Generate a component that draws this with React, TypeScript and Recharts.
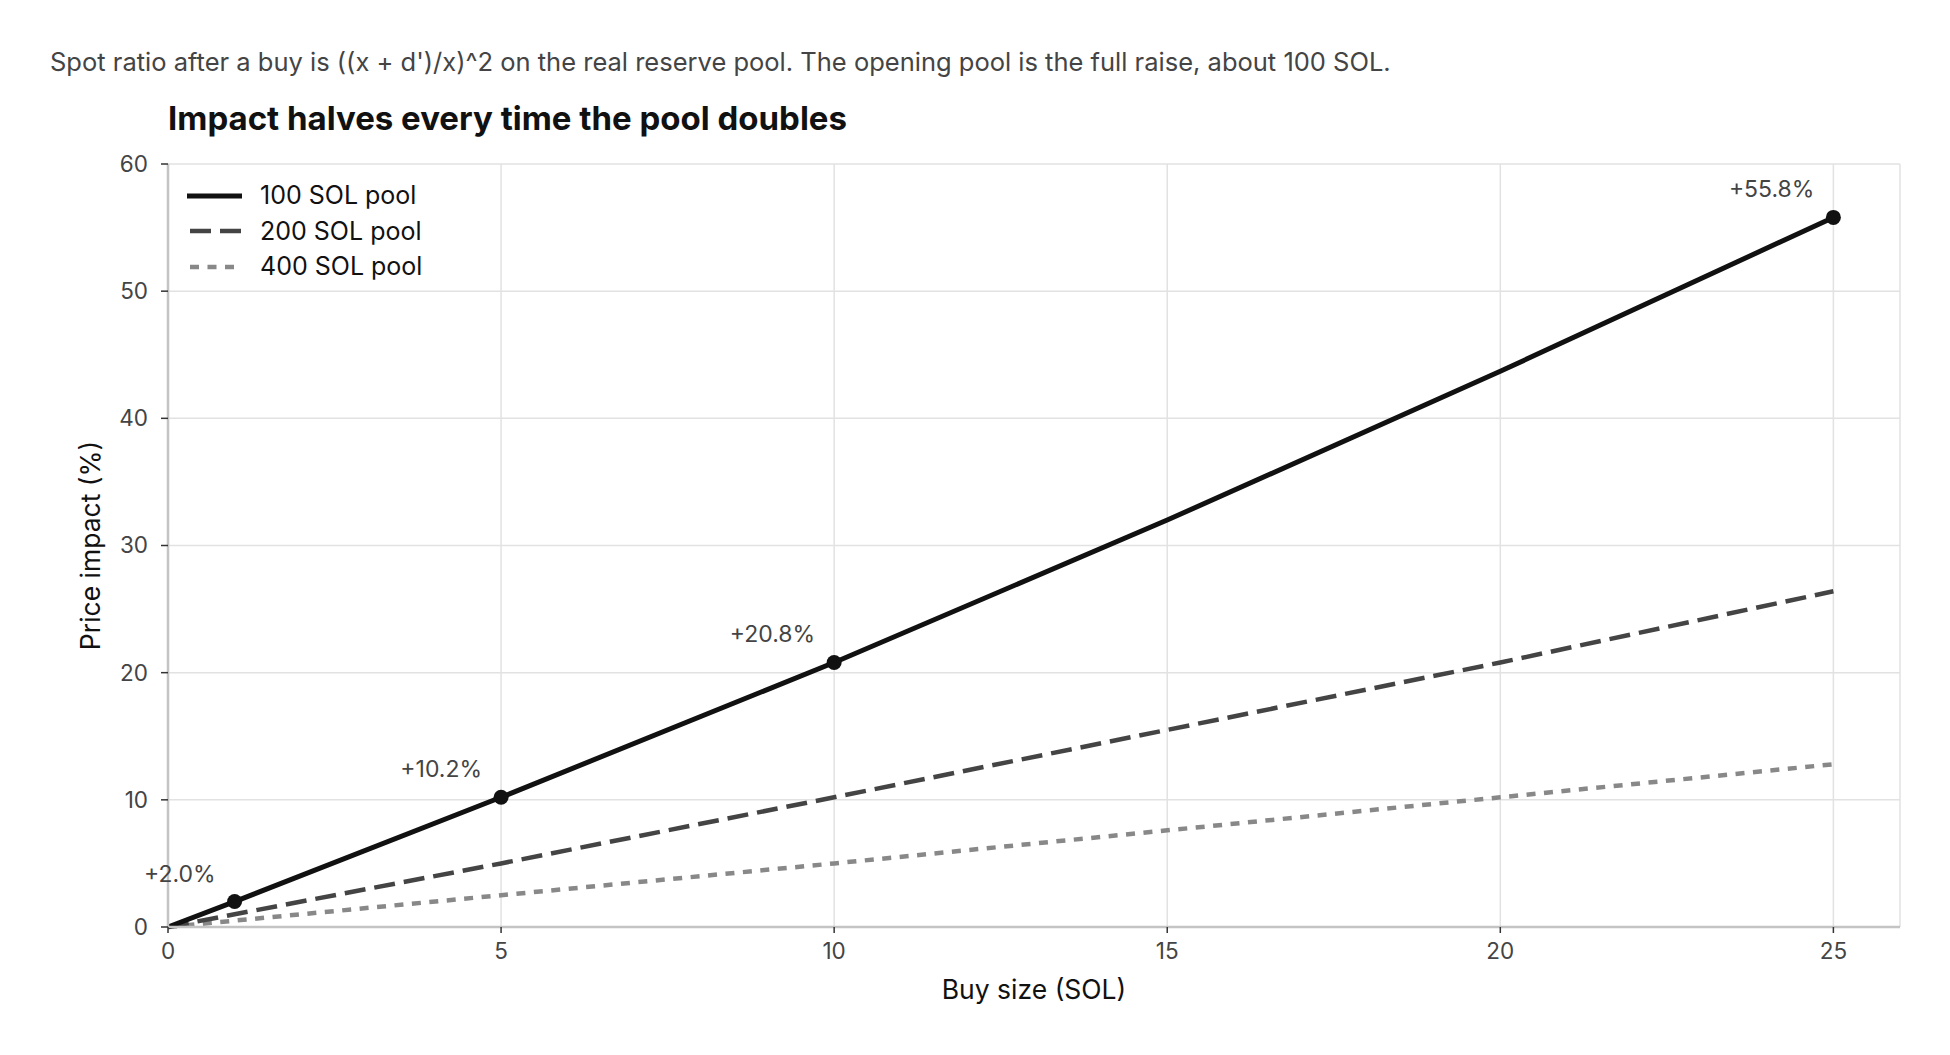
import React from 'react';
import { LineChart, Line, XAxis, YAxis, CartesianGrid, LabelList, Label } from 'recharts';

// ---- data ----
const buySizes = [0, 1, 5, 10, 15, 20, 25];
const pool100 = [0, 2.0, 10.2, 20.8, 32.0, 43.7, 55.8];
const pool200 = [0, 1.0, 5.0, 10.2, 15.5, 20.8, 26.4];
const pool400 = [0, 0.5, 2.5, 5.0, 7.6, 10.2, 12.8];
const seriesNames = ['100 SOL pool', '200 SOL pool', '400 SOL pool'];
const markedSizes = [1, 5, 10, 25];
const xTicks = [0, 5, 10, 15, 20, 25];
const yTicks = [0, 10, 20, 30, 40, 50, 60];

const subtitle = "Spot ratio after a buy is ((x + d')/x)^2 on the real reserve pool. The opening pool is the full raise, about 100 SOL.";
const title = 'Impact halves every time the pool doubles';
const xLabel = 'Buy size (SOL)';
const yLabel = 'Price impact (%)';

const data = buySizes.map((x, i) => ({ x, p100: pool100[i], p200: pool200[i], p400: pool400[i] }));

// ---- styles ----
const FONT = 'Inter, "Noto Sans", "DejaVu Sans", sans-serif';
const seriesStyles = [
  { key: 'p100', color: '#111111', width: 5, dash: undefined as string | undefined },
  { key: 'p200', color: '#444444', width: 4.5, dash: '21 9' },
  { key: 'p400', color: '#888888', width: 4.5, dash: '9 8.5' },
];

const renderDot = (props: any) => {
  const { cx, cy, payload, index } = props;
  if (!markedSizes.includes(payload.x)) return <g key={`d${index}`} />;
  return <circle key={`d${index}`} cx={cx} cy={cy} r={7.5} fill="#111111" />;
};

const renderPointLabel = (props: any) => {
  const { x, y, value, index } = props;
  if (!markedSizes.includes(buySizes[index])) return null;
  return (
    <text
      key={`l${index}`}
      x={x - 19}
      y={y - 28}
      textAnchor="end"
      dominantBaseline="central"
      fontSize={23}
      fill="#444444"
      fontFamily={FONT}
    >
      {`+${Number(value).toFixed(1)}%`}
    </text>
  );
};

const renderXLabel = (props: any) => {
  const vb = props.viewBox || {};
  return (
    <text
      x={vb.x + vb.width / 2}
      y={vb.y + 62}
      textAnchor="middle"
      dominantBaseline="central"
      fontSize={26.5}
      fill="#111111"
      fontFamily={FONT}
    >
      {xLabel}
    </text>
  );
};

const renderYLabel = (props: any) => {
  const vb = props.viewBox || {};
  const cx = vb.x + vb.width - 78;
  const cy = vb.y + vb.height / 2;
  return (
    <text
      x={cx}
      y={cy}
      transform={`rotate(-90 ${cx} ${cy})`}
      textAnchor="middle"
      dominantBaseline="central"
      fontSize={26.5}
      fill="#111111"
      fontFamily={FONT}
    >
      {yLabel}
    </text>
  );
};

const LegendOverlay = () => (
  <div style={{ position: 'absolute', left: 186, top: 178, fontFamily: FONT }}>
    {seriesNames.map((name, i) => {
      const s = seriesStyles[i];
      return (
        <div key={name} style={{ display: 'flex', alignItems: 'center', height: 35.5 }}>
          <svg width={60} height={12} style={{ display: 'block' }}>
            <line
              x1={i === 0 ? 1 : 4}
              x2={56}
              y1={6}
              y2={6}
              stroke={s.color}
              strokeWidth={i === 0 ? 5 : 4.5}
              strokeDasharray={s.dash}
            />
          </svg>
          <span style={{ marginLeft: 14, fontSize: 25, color: '#111111', lineHeight: 1 }}>{name}</span>
        </div>
      );
    })}
  </div>
);

export default function App() {
  return (
    <div style={{ position: 'absolute', left: 0, top: 0, width: 1950, height: 1055, background: '#ffffff', fontFamily: FONT }}>
      <div style={{ position: 'absolute', left: 50, top: 49, fontSize: 25.5, lineHeight: 1, color: '#444444', whiteSpace: 'nowrap' }}>
        {subtitle}
      </div>
      <div style={{ position: 'absolute', left: 168, top: 101.5, fontSize: 33, lineHeight: 1, fontWeight: 700, color: '#111111', whiteSpace: 'nowrap' }}>
        {title}
      </div>
      <div style={{ position: 'absolute', left: 0, top: 0 }}>
        <LineChart width={1950} height={1055} data={data} margin={{ top: 164, right: 50, bottom: 48, left: 108 }}>
          <CartesianGrid stroke="#e2e2e2" strokeWidth={1.5} />
          <XAxis
            dataKey="x"
            type="number"
            domain={[0, 26]}
            ticks={xTicks}
            interval={0}
            height={80}
            axisLine={{ stroke: '#c4c4c4', strokeWidth: 2.5 }}
            tickLine={{ stroke: '#333333', strokeWidth: 1.5 }}
            tickSize={6}
            tickMargin={10}
            tick={{ fontSize: 22.5, fill: '#444444', fontFamily: FONT }}
          >
            <Label content={renderXLabel} />
          </XAxis>
          <YAxis
            type="number"
            domain={[0, 60]}
            ticks={yTicks}
            interval={0}
            width={60}
            axisLine={{ stroke: '#c4c4c4', strokeWidth: 2.5 }}
            tickLine={{ stroke: '#333333', strokeWidth: 1.5 }}
            tickSize={7}
            tickMargin={13}
            tick={{ fontSize: 22.5, fill: '#444444', fontFamily: FONT }}
          >
            <Label content={renderYLabel} />
          </YAxis>
          <Line
            dataKey="p400"
            name={seriesNames[2]}
            type="linear"
            stroke={seriesStyles[2].color}
            strokeWidth={seriesStyles[2].width}
            strokeDasharray={seriesStyles[2].dash}
            dot={false}
            activeDot={false}
            isAnimationActive={false}
          />
          <Line
            dataKey="p200"
            name={seriesNames[1]}
            type="linear"
            stroke={seriesStyles[1].color}
            strokeWidth={seriesStyles[1].width}
            strokeDasharray={seriesStyles[1].dash}
            dot={false}
            activeDot={false}
            isAnimationActive={false}
          />
          <Line
            dataKey="p100"
            name={seriesNames[0]}
            type="linear"
            stroke={seriesStyles[0].color}
            strokeWidth={seriesStyles[0].width}
            dot={renderDot}
            activeDot={false}
            isAnimationActive={false}
          >
            <LabelList dataKey="p100" content={renderPointLabel} />
          </Line>
        </LineChart>
      </div>
      <LegendOverlay />
    </div>
  );
}
